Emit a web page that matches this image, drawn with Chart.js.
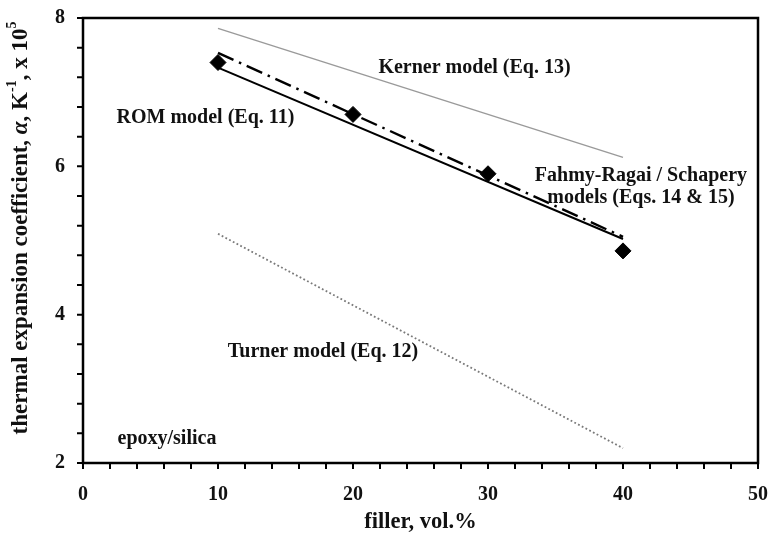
<!DOCTYPE html>
<html>
<head>
<meta charset="utf-8">
<script src="https://cdn.jsdelivr.net/npm/chart.js@4.4.1/dist/chart.umd.min.js"></script>
<style>
  html, body { margin: 0; padding: 0; background: #fff; }
  #wrap { width: 771px; height: 533px; }
</style>
</head>
<body>
<div id="wrap"><canvas id="cte"></canvas></div>
<script>
// measured CTE of epoxy/silica and the model predictions (x 1e-5 / K)
const filler = [10, 20, 30, 40];
const measured = [7.4, 6.7, 5.9, 4.86];

const modelFiller = [10, 40];
const kernerModel = [7.86, 6.12];
const romModel = [7.33, 5.02];
const fahmyModel = [7.53, 5.05];
const turnerModel = [5.09, 2.2];

const xTicks = [0, 10, 20, 30, 40, 50];
const yTicks = [2, 4, 6, 8];

// text placed in data units
const notes = [
  { text: "Kerner model (Eq. 13)", x: 29.0, y: 7.33 },
  { text: "ROM model (Eq. 11)", x: 9.07, y: 6.655 },
  { text: "Fahmy-Ragai / Schapery", x: 41.33, y: 5.874 },
  { text: "models (Eqs. 14 & 15)", x: 41.33, y: 5.578 },
  { text: "Turner model (Eq. 12)", x: 17.78, y: 3.493 },
  { text: "epoxy/silica", x: 6.22, y: 2.32 },
];

const FONT = "'Liberation Serif', 'Times New Roman', serif";
const INK = "#111";

const pairs = (xs, ys) => xs.map((x, i) => ({ x: x, y: ys[i] }));

const framePlugin = {
  id: "frame",
  afterDatasetsDraw(chart) {
    const { ctx, chartArea: a, scales } = chart;
    const xs = scales.x, ys = scales.y;
    ctx.save();
    ctx.strokeStyle = "#000";
    ctx.lineWidth = 2.5;
    ctx.strokeRect(a.left, a.top, a.right - a.left, a.bottom - a.top);

    // small outside ticks: every 2 on x, every 0.4 on y
    ctx.lineWidth = 2;
    ctx.beginPath();
    for (let v = 0; v <= 50.001; v += 2) {
      const px = xs.getPixelForValue(v);
      ctx.moveTo(px, a.bottom);
      ctx.lineTo(px, a.bottom + 6);
    }
    for (let i = 0; i <= 15; i++) {
      const py = ys.getPixelForValue(2 + i * 0.4);
      ctx.moveTo(a.left - 6, py);
      ctx.lineTo(a.left, py);
    }
    ctx.stroke();

    // annotations
    ctx.fillStyle = INK;
    ctx.font = "bold 20px " + FONT;
    ctx.textAlign = "center";
    ctx.textBaseline = "middle";
    notes.forEach((n) => {
      ctx.fillText(n.text, xs.getPixelForValue(n.x), ys.getPixelForValue(n.y));
    });

    // x title
    ctx.font = "bold 22.5px " + FONT;
    ctx.fillText("filler, vol.%", (a.left + a.right) / 2, 522);

    // y title with superscripts and italic alpha
    const size = 23;
    const sup = Math.round(size * 0.62);
    const parts = [
      { t: "thermal expansion coefficient, ", f: "bold " + size + "px " + FONT, dy: 0 },
      { t: "α", f: "italic bold " + size + "px " + FONT, dy: 0 },
      { t: ", K", f: "bold " + size + "px " + FONT, dy: 0 },
      { t: "-1", f: "bold " + sup + "px " + FONT, dy: -size * 0.38 },
      { t: ", x 10", f: "bold " + size + "px " + FONT, dy: 0 },
      { t: "5", f: "bold " + sup + "px " + FONT, dy: -size * 0.38 },
    ];
    let total = 0;
    parts.forEach((p) => { ctx.font = p.f; p.w = ctx.measureText(p.t).width; total += p.w; });
    ctx.translate(21, 228);
    ctx.rotate(-Math.PI / 2);
    ctx.textAlign = "left";
    let cx = -total / 2;
    parts.forEach((p) => {
      ctx.font = p.f;
      ctx.fillText(p.t, cx, p.dy);
      cx += p.w;
    });
    ctx.restore();
  },
};

new Chart(document.getElementById("cte"), {
  type: "scatter",
  data: {
    datasets: [
      {
        label: "Kerner",
        data: pairs(modelFiller, kernerModel),
        showLine: true,
        borderColor: "#9a9a9a",
        borderWidth: 1.4,
        pointRadius: 0,
      },
      {
        label: "Turner",
        data: pairs(modelFiller, turnerModel),
        showLine: true,
        borderColor: "#7a7a7a",
        borderWidth: 1.8,
        borderDash: [1.8, 2.4],
        pointRadius: 0,
      },
      {
        label: "ROM",
        data: pairs(modelFiller, romModel),
        showLine: true,
        borderColor: "#000",
        borderWidth: 2,
        pointRadius: 0,
      },
      {
        label: "Fahmy-Ragai / Schapery",
        data: pairs(modelFiller, fahmyModel),
        showLine: true,
        borderColor: "#000",
        borderWidth: 2.4,
        borderDash: [17, 6, 2.5, 6],
        pointRadius: 0,
      },
      {
        label: "epoxy/silica",
        data: pairs(filler, measured),
        pointStyle: "rectRot",
        pointRadius: 8,
        backgroundColor: "#000",
        borderColor: "#000",
        borderWidth: 1,
      },
    ],
  },
  plugins: [framePlugin],
  options: {
    responsive: true,
    maintainAspectRatio: false,
    animation: false,
    layout: { padding: { top: 18, right: 13, left: 0, bottom: 0 } },
    plugins: { legend: { display: false }, tooltip: { enabled: false } },
    scales: {
      x: {
        type: "linear",
        min: 0,
        max: 50,
        afterBuildTicks: (s) => { s.ticks = xTicks.map((v) => ({ value: v })); },
        afterFit: (s) => { s.height = 70; s.paddingLeft = 0; s.paddingRight = 0; },
        grid: { display: false, drawTicks: false },
        border: { display: false },
        ticks: {
          padding: 20,
          color: INK,
          font: { family: FONT, size: 20, weight: "bold" },
        },
      },
      y: {
        type: "linear",
        min: 2,
        max: 8,
        afterBuildTicks: (s) => { s.ticks = yTicks.map((v) => ({ value: v })); },
        afterFit: (s) => { s.width = 83; s.paddingTop = 0; s.paddingBottom = 0; },
        grid: { display: false, drawTicks: false },
        border: { display: false },
        ticks: {
          padding: 18,
          color: INK,
          font: { family: FONT, size: 20, weight: "bold" },
        },
      },
    },
  },
});
</script>
</body>
</html>
